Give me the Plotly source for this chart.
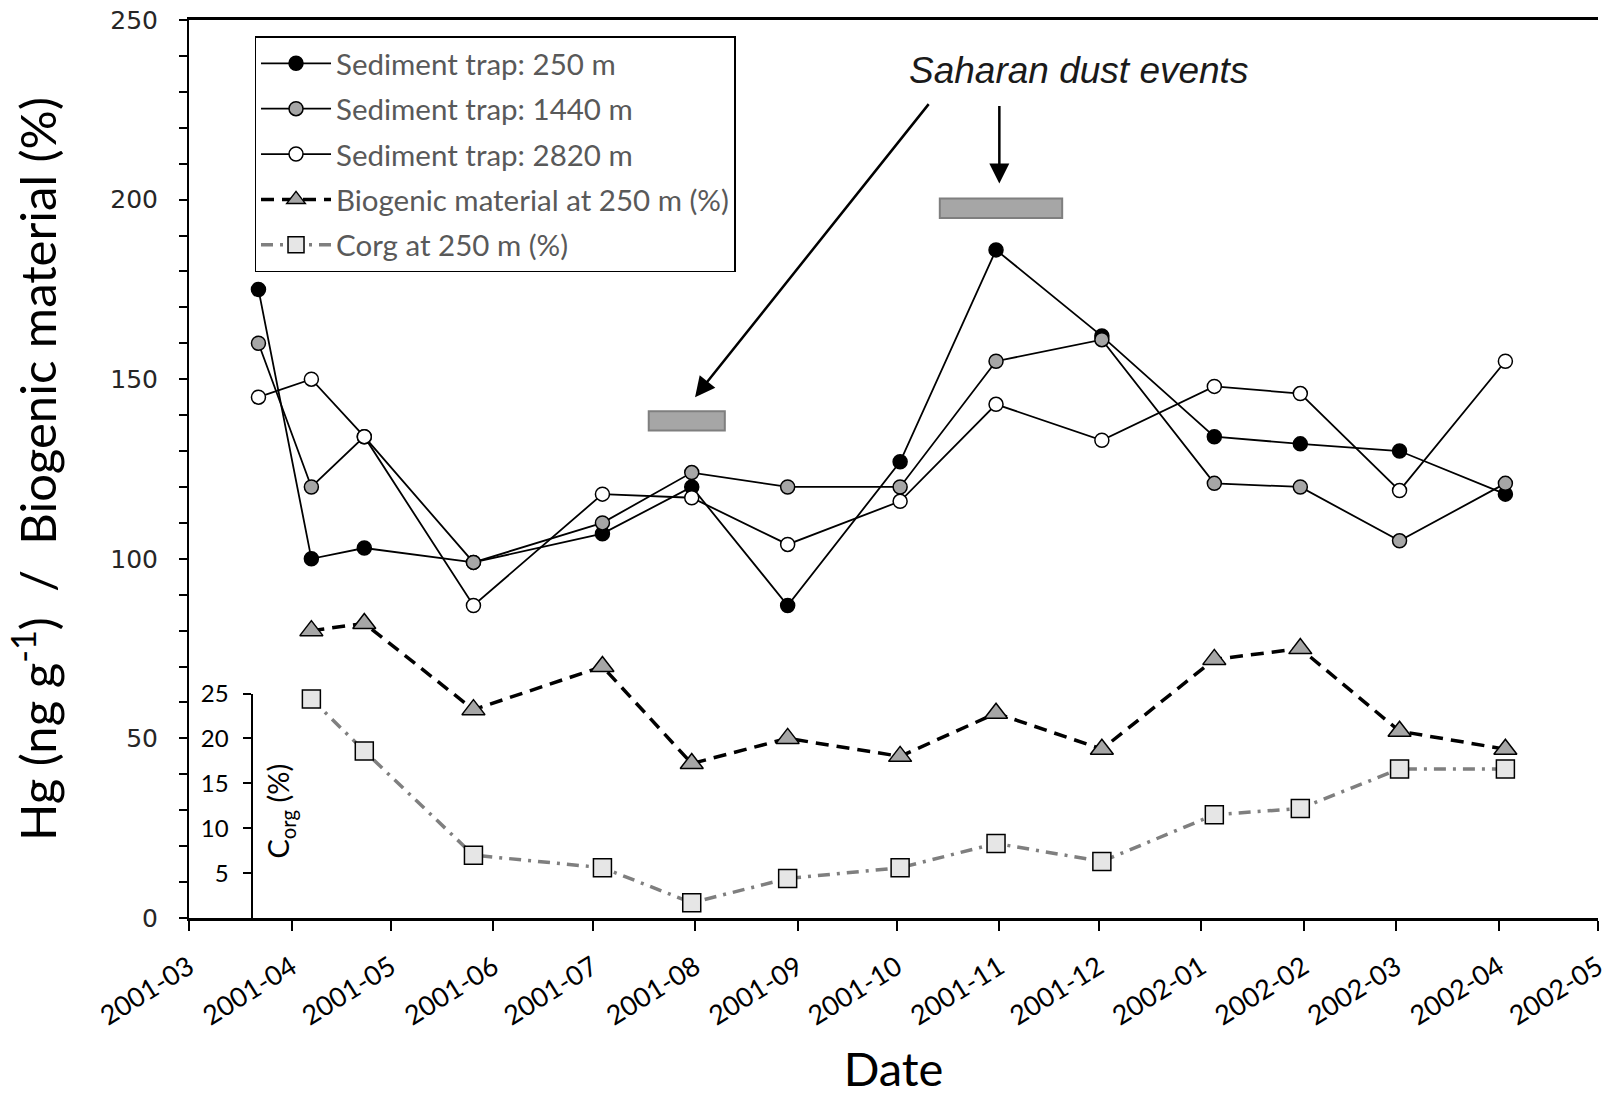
import plotly.graph_objects as go

# ---------------- data ----------------
dates_hg = ["2001-03-22", "2001-04-07", "2001-04-23", "2001-05-26", "2001-07-04",
            "2001-07-31", "2001-08-29", "2001-10-02", "2001-10-31", "2001-12-02",
            "2002-01-05", "2002-01-31", "2002-03-02", "2002-04-03"]
hg_250 = [175, 100, 103, 99, 107, 120, 87, 127, 186, 162, 134, 132, 130, 118]
hg_1440 = [160, 120, 134, 99, 110, 124, 120, 120, 155, 161, 121, 120, 105, 121]
hg_2820 = [145, 150, 134, 87, 118, 117, 104, 116, 143, 133, 148, 146, 119, 155]

dates_bio = dates_hg[1:]
biogenic_250 = [80, 82, 58, 70, 43, 50, 45, 57, 47, 72, 75, 52, 47]
corg_250 = [24.4, 18.6, 7.0, 5.6, 1.7, 4.4, 5.6, 8.3, 6.3, 11.5, 12.2, 16.6, 16.6]

dust_events = [("2001-07-18", "2001-08-10", 135.7, 141.1),
               ("2001-10-14", "2001-11-20", 194.9, 200.3)]

names = ["Sediment trap: 250 m", "Sediment trap: 1440 m", "Sediment trap: 2820 m",
         "Biogenic material at 250 m (%)", "Corg at 250 m (%)"]

# ---------------- figure ----------------
fig = go.Figure()

for vals, fillc, nm in [(hg_250, "black", names[0]),
                        (hg_1440, "#a6a6a6", names[1]),
                        (hg_2820, "white", names[2])]:
    fig.add_trace(go.Scatter(
        x=dates_hg, y=vals, name=nm, mode="lines+markers", legendgroup=nm,
        line=dict(color="black", width=1.8),
        marker=dict(symbol="circle", size=14, color=fillc,
                    line=dict(color="black", width=1.5)),
        cliponaxis=False))

fig.add_trace(go.Scatter(
    x=dates_bio, y=biogenic_250, name=names[3], mode="lines+markers", legendgroup=names[3],
    line=dict(color="black", width=3.5, dash="13px,8px"),
    marker=dict(symbol="triangle-up", size=20, color="#a6a6a6",
                line=dict(color="black", width=1.5)),
    cliponaxis=False))

fig.add_trace(go.Scatter(
    x=dates_bio, y=corg_250, name=names[4], mode="lines+markers", legendgroup=names[4],
    xaxis="x", yaxis="y2",
    line=dict(color="#7f7f7f", width=3.5, dash="12px,7px,3px,7px"),
    marker=dict(symbol="square", size=18, color="#e6e6e6",
                line=dict(color="black", width=1.5)),
    cliponaxis=False))

shapes = []
for x0, x1, y0, y1 in dust_events:
    shapes.append(dict(type="rect", xref="x", yref="y", x0=x0, x1=x1, y0=y0, y1=y1,
                       fillcolor="#a6a6a6", line=dict(color="#7f7f7f", width=2), layer="above"))

annotations = [
    dict(x="2001-11-25", y=236, xref="x", yref="y", text="<i>Saharan dust events</i>",
         showarrow=False, font=dict(family="Liberation Sans, Arial", size=37, color="#1a1a1a")),
    dict(x="2001-08-01", y=145, ax="2001-10-11", ay=227, xref="x", yref="y",
         axref="x", ayref="y", text="", showarrow=True, arrowhead=2, arrowsize=1.6,
         arrowwidth=2.5, arrowcolor="black"),
    dict(x="2001-11-01", y=204.5, ax="2001-11-01", ay=226.5, xref="x", yref="y",
         axref="x", ayref="y", text="", showarrow=True, arrowhead=2, arrowsize=1.6,
         arrowwidth=2.5, arrowcolor="black"),
    dict(x=0.0646, y=0.1185, xref="paper", yref="paper", xanchor="center", yanchor="middle",
         text="C<sub>org</sub> (%)", textangle=-90, showarrow=False,
         font=dict(family="Lato", size=29, color="black")),
]

fig.update_layout(
    width=1609, height=1096,
    margin=dict(l=189, r=11, t=20, b=178),
    paper_bgcolor="white", plot_bgcolor="rgba(0,0,0,0)",
    shapes=shapes, annotations=annotations,
    showlegend=True,
    legend=dict(x=0.0465, y=0.982, xanchor="left", yanchor="top",
                bordercolor="black", borderwidth=1.5, bgcolor="white",
                font=dict(family="Lato", size=29.5, color="#595959"),
                tracegroupgap=4, itemwidth=70),
    xaxis=dict(
        type="date", range=["2001-03-01", "2002-05-01"], automargin=False,
        dtick="M1", tick0="2001-03-01", tickformat="%Y-%m", tickangle=-32,
        ticks="outside", ticklen=10, tickwidth=1.5, tickcolor="black",
        showline=True, linecolor="black", linewidth=2.5, mirror=True,
        showgrid=False, zeroline=False, ticklabeloverflow="allow",
        tickfont=dict(family="Lato", size=27, color="black"),
        ticklabelstandoff=10,
        title=dict(text="Date", font=dict(family="Lato", size=47, color="black"), standoff=30),
    ),
    yaxis=dict(
        range=[0, 250], dtick=50, tick0=0, automargin=False,
        ticks="outside", ticklen=8, tickwidth=1.5, tickcolor="black",
        minor=dict(dtick=10, ticks="outside", ticklen=8, tickwidth=1.5, tickcolor="black"),
        showline=True, linecolor="black", linewidth=2, showgrid=False, zeroline=False,
        tickfont=dict(family="DejaVu Sans", size=25, color="#262626"),
        ticklabelstandoff=16,
        title=dict(text="Hg (ng g<sup>-1</sup>)  /  Biogenic material (%)",
                   font=dict(family="Lato", size=49, color="black"), standoff=38),
    ),
    yaxis2=dict(
        domain=[0, 0.25], range=[0, 25], anchor="free", position=0.045, automargin=False,
        tickvals=[5, 10, 15, 20, 25],
        ticks="outside", ticklen=8, tickwidth=1.5, tickcolor="black",
        showline=True, linecolor="black", linewidth=2, showgrid=False, zeroline=False,
        tickfont=dict(family="Lato", size=24, color="black"),
        ticklabelstandoff=10,
    ),
)

fig.write_html("out.html")
